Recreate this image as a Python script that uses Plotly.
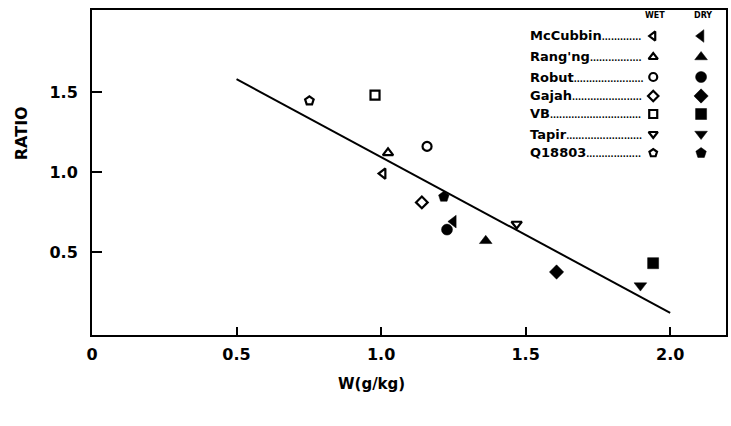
import plotly.graph_objects as go

# ---- data ----
cultivars = ["McCubbin", "Rang'ng", "Robut", "Gajah", "VB", "Tapir", "Q18803"]
wet_symbols = ["triangle-left-open", "triangle-up-open", "circle-open", "diamond-open",
               "square-open", "triangle-down-open", "pentagon-open"]
dry_symbols = ["triangle-left", "triangle-up", "circle", "diamond",
               "square", "triangle-down", "pentagon"]
wet_w = [1.007, 1.024, 1.159, 1.141, 0.979, 1.469, 0.752]
wet_ratio = [0.99, 1.12, 1.16, 0.81, 1.48, 0.675, 1.445]
dry_w = [1.25, 1.362, 1.228, 1.607, 1.941, 1.897, 1.217]
dry_ratio = [0.69, 0.57, 0.64, 0.375, 0.43, 0.29, 0.845]
fit_w = [0.5, 2.0]
fit_ratio = [1.58, 0.12]
x_ticks = [0, 0.5, 1.0, 1.5, 2.0]
x_ticklabels = ["0", "0.5", "1.0", "1.5", "2.0"]
y_ticks = [0.5, 1.0, 1.5]
y_ticklabels = ["0.5", "1.0", "1.5"]

FONT = "DejaVu Sans"
K = "black"

# approximate DejaVu Sans Bold advance widths (em) for leader-dot sizing
EM = {"M": .995, "c": .593, "C": .734, "u": .712, "b": .716, "i": .343, "n": .712,
      "R": .770, "a": .675, "g": .716, "'": .332, "o": .687, "t": .478, "G": .821,
      "j": .343, "h": .712, "V": .774, "B": .762, "T": .682, "p": .716, "r": .493,
      "Q": .850, "1": .696, "8": .696, "0": .696, "3": .696}

PL, PR, PT, PB = 92, 728, 10, 335  # plot area in pixels


def px(xp):
    return (xp - PL) / (PR - PL)


def py(yp):
    return (PB - yp) / (PB - PT)


fig = go.Figure()

# regression line
fig.add_trace(go.Scatter(x=fit_w, y=fit_ratio, mode="lines",
                         line=dict(color=K, width=2), showlegend=False, hoverinfo="skip"))

# data points
for i, name in enumerate(cultivars):
    fig.add_trace(go.Scatter(x=[wet_w[i]], y=[wet_ratio[i]], mode="markers",
                             marker=dict(symbol=wet_symbols[i], size=9, color=K,
                                         line=dict(width=2.2, color=K)),
                             showlegend=False, name=name + " wet"))
    fig.add_trace(go.Scatter(x=[dry_w[i]], y=[dry_ratio[i]], mode="markers",
                             marker=dict(symbol=dry_symbols[i], size=11, color=K,
                                         line=dict(width=0.5, color=K)),
                             showlegend=False, name=name + " dry"))

# custom legend on overlay axes (pixel coordinates of plot area)
leg_y = [36, 57, 77, 96, 114, 134, 153]
wet_x, dry_x, name_x, dots_end = 655, 703, 529, 643
NAME_SIZE, DOT_SIZE = 13, 8
fig.add_trace(go.Scatter(x=[wet_x] * 7, y=leg_y, mode="markers", xaxis="x2", yaxis="y2",
                         marker=dict(symbol=wet_symbols, size=8, color=K,
                                     line=dict(width=2.2, color=K)),
                         showlegend=False, hoverinfo="skip"))
fig.add_trace(go.Scatter(x=[dry_x] * 7, y=leg_y, mode="markers", xaxis="x2", yaxis="y2",
                         marker=dict(symbol=dry_symbols, size=11, color=K,
                                     line=dict(width=0.5, color=K)),
                         showlegend=False, hoverinfo="skip"))

annotations = []
for name, yy in zip(cultivars, leg_y):
    w = sum(EM.get(ch, 0.7) for ch in name) * NAME_SIZE
    n_dots = max(3, int((dots_end - name_x - w) / (0.38 * DOT_SIZE)))
    txt = "<b>%s</b><span style='font-size:%dpx'><b>%s</b></span>" % (name, DOT_SIZE, "." * n_dots)
    annotations.append(dict(x=px(name_x), y=py(yy), xref="paper", yref="paper", text=txt,
                            showarrow=False, xanchor="left", yanchor="middle",
                            font=dict(family=FONT, size=NAME_SIZE, color=K)))
annotations.append(dict(x=px(wet_x + 2), y=py(16), xref="paper", yref="paper", text="<b>WET</b>",
                        showarrow=False, xanchor="center", yanchor="middle",
                        font=dict(family=FONT, size=8, color=K)))
annotations.append(dict(x=px(dry_x + 2), y=py(16), xref="paper", yref="paper", text="<b>DRY</b>",
                        showarrow=False, xanchor="center", yanchor="middle",
                        font=dict(family=FONT, size=8, color=K)))
# axis titles
annotations.append(dict(x=px(372), y=py(384), xref="paper", yref="paper", text="<b>W(g/kg)</b>",
                        showarrow=False, xanchor="center", yanchor="middle",
                        font=dict(family=FONT, size=15, color=K)))
annotations.append(dict(x=px(21), y=py(133), xref="paper", yref="paper", text="<b>RATIO</b>",
                        showarrow=False, textangle=-90, xanchor="center", yanchor="middle",
                        font=dict(family=FONT, size=16, color=K)))

fig.update_layout(
    width=731, height=426,
    margin=dict(l=PL, r=731 - PR, t=PT, b=426 - PB),
    paper_bgcolor="white", plot_bgcolor="white",
    showlegend=False,
    font=dict(family=FONT, color=K),
    xaxis=dict(range=[0, 636 / 290], tickvals=x_ticks, ticktext=["<b>%s</b>" % t for t in x_ticklabels],
               ticks="inside", ticklen=8, tickwidth=2, tickcolor=K, ticklabelstandoff=4,
               showline=True, linewidth=2, linecolor=K, mirror=True,
               showgrid=False, zeroline=False,
               tickfont=dict(family=FONT, size=16, color=K)),
    yaxis=dict(range=[-3 / 160, 322 / 160], tickvals=y_ticks, ticktext=["<b>%s</b>" % t for t in y_ticklabels],
               ticks="inside", ticklen=10, tickwidth=2, tickcolor=K, ticklabelstandoff=9,
               showline=True, linewidth=2, linecolor=K, mirror=True,
               showgrid=False, zeroline=False,
               tickfont=dict(family=FONT, size=16, color=K)),
    xaxis2=dict(range=[PL, PR], overlaying="x", visible=False, domain=[0, 1]),
    yaxis2=dict(range=[PB, PT], overlaying="y", visible=False, domain=[0, 1]),
    annotations=annotations,
)

fig.write_html("out.html")
